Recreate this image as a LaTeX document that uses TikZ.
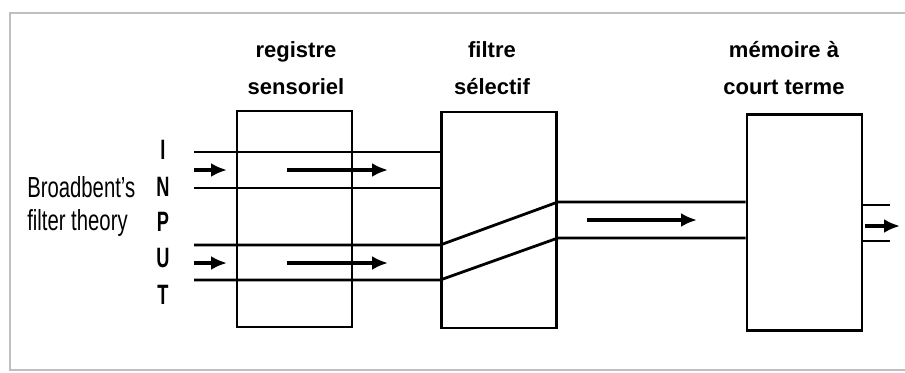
\documentclass[tikz,border=0pt]{standalone}
\usepackage{fontspec}
\setmainfont{Liberation Sans}
\usetikzlibrary{arrows.meta}
\usetikzlibrary{calc}

\begin{document}
\begin{tikzpicture}[
        x=0.5pt, y=-0.5pt,
        stage/.style={draw, line width=1.4pt, minimum width=57.5pt, minimum height=108pt, inner sep=0pt},
        channel/.style={line width=1.4pt},
        flow/.style={-{Latex[length=8pt, width=7pt]}, line width=1.9pt},
        stagelabel/.style={font=\bfseries\fontsize{11}{18.5}\selectfont, align=center},
        letter/.style={font=\bfseries\fontsize{14}{14}\selectfont, xscale=0.65, inner sep=0pt},
        theory/.style={font=\fontsize{14.5}{16.5}\selectfont, align=left, xscale=0.7, inner sep=0pt},
    ]
    \useasboundingbox (0,0) rectangle (905,372);

    % --- Cadre ---
    \draw[gray!50, line width=0.7pt] (905,13) -- (10,13) -- (10,370) -- (905,370);

    % --- Les trois étapes ---
    \node[stage] (reg) at (294.5,219) {};
    \node[stage] (filt) at (499,220) {};
    \node[stage] (mct) at (804.5,222.5) {};

    \node[stagelabel] (reglabel) at (296,68) {registre\\sensoriel};
    \node[stagelabel] (filtlabel) at (492,68) {filtre\\sélectif};
    \node[stagelabel] (mctlabel) at (784,68) {mémoire à\\court terme};

    % --- Texte à gauche ---
    \node[theory, anchor=west] (bft) at (27,206) {Broadbent's\\filter theory};
    \foreach \l/\y in {I/150, N/187, P/222, U/258, T/295} {
        \node[letter] (in\l) at (163,\y) {\l};
    }

    % --- Canaux d'entrée ---
    \coordinate (a1) at (194,152);
    \coordinate (a2) at (194,188);
    \coordinate (b1) at (194,245);
    \coordinate (b2) at (194,280);
    \coordinate (c1) at (filt.east |- 0,202);
    \coordinate (c2) at (filt.east |- 0,238);
    \draw[channel] (a1) -- (a1 -| filt.west);
    \draw[channel] (a2) -- (a2 -| filt.west);
    \draw[channel] (b1) -- (b1 -| filt.west) -- (c1) -- (c1 -| mct.west);
    \draw[channel] (b2) -- (b2 -| filt.west) -- (c2) -- (c2 -| mct.west);

    % --- Sortie ---
    \coordinate (o1) at (890,205);
    \coordinate (o2) at (890,241);
    \draw[channel] (mct.east |- o1) -- (o1);
    \draw[channel] (mct.east |- o2) -- (o2);

    % --- Flèches ---
    \foreach \y/\n in {170/a, 263/b} {
        \coordinate (\n s) at (194,\y);
        \coordinate (\n t) at (227,\y);
        \coordinate (\n u) at (287,\y);
        \coordinate (\n v) at (388,\y);
        \draw[flow] (\n s) -- (\n t);
        \draw[flow] (\n u) -- (\n v);
    }
    \coordinate (ms) at (587,220);
    \coordinate (mt) at (697,220);
    \draw[flow] (ms) -- (mt);
    \coordinate (os) at (865,226);
    \coordinate (ot) at (900,226);
    \draw[flow] (os) -- (ot);
\end{tikzpicture}
\end{document}
